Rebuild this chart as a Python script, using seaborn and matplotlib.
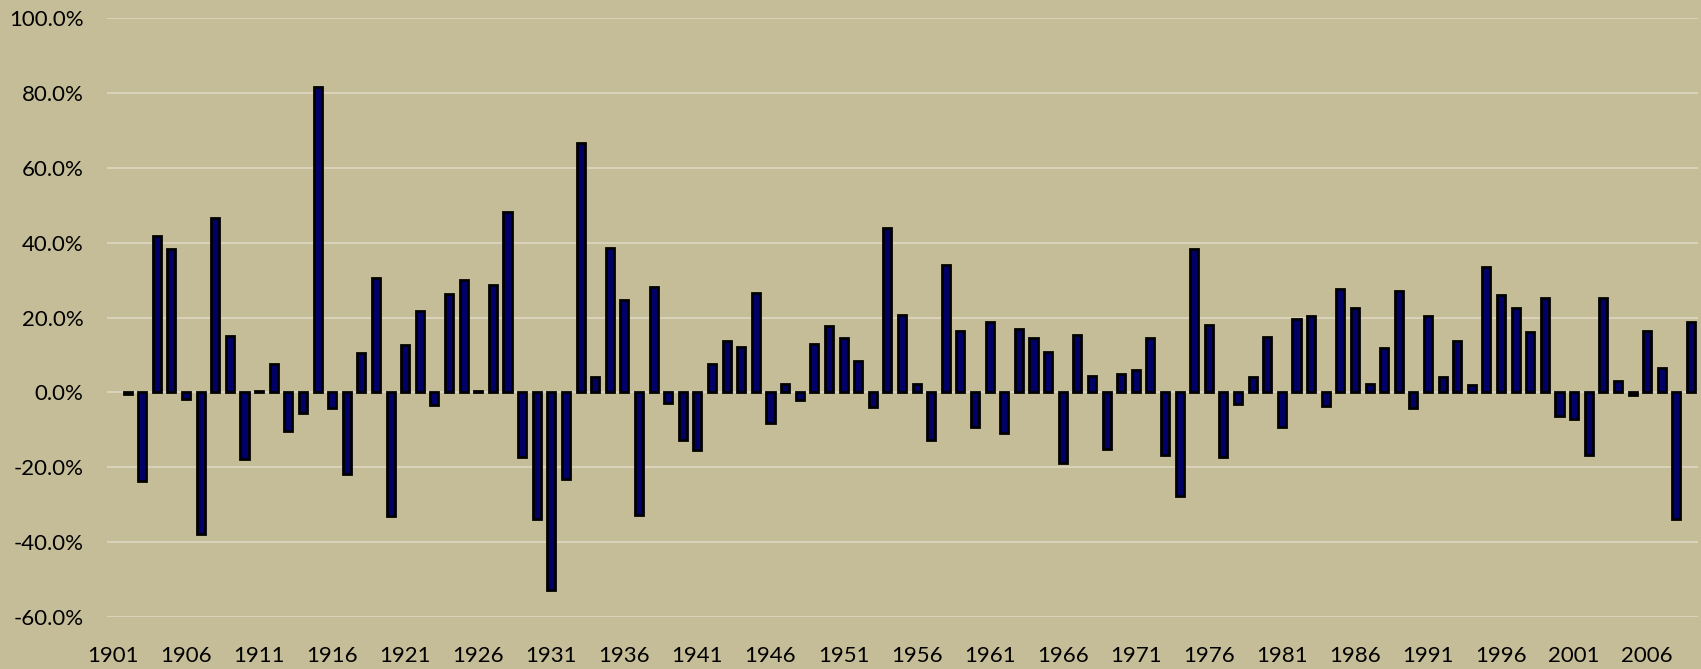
import pandas as pd
import numpy as np
import matplotlib
matplotlib.use("Agg")
import matplotlib.pyplot as plt
import seaborn as sns
from matplotlib.ticker import FuncFormatter

# annual returns (DJIA), 1901 has no bar
years = [str(y) for y in range(1901, 2010)]
returns = [
    None, -0.004, -0.236, 0.417, 0.382, -0.019, -0.377, 0.466, 0.150, -0.179,
    0.004, 0.076, -0.103, -0.054, 0.817, -0.042, -0.217, 0.105, 0.305, -0.329,
    0.127, 0.217, -0.033, 0.262, 0.300, 0.003, 0.288, 0.482, -0.172, -0.338,
    -0.527, -0.231, 0.667, 0.041, 0.385, 0.248, -0.328, 0.281, -0.029, -0.127,
    -0.154, 0.076, 0.138, 0.121, 0.266, -0.081, 0.022, -0.021, 0.129, 0.176,
    0.144, 0.084, -0.038, 0.440, 0.208, 0.023, -0.128, 0.340, 0.164, -0.093,
    0.187, -0.108, 0.170, 0.146, 0.109, -0.189, 0.152, 0.043, -0.152, 0.048,
    0.061, 0.146, -0.166, -0.276, 0.383, 0.179, -0.173, -0.031, 0.042, 0.149,
    -0.092, 0.196, 0.203, -0.037, 0.277, 0.226, 0.023, 0.119, 0.270, -0.043,
    0.203, 0.042, 0.137, 0.021, 0.335, 0.260, 0.226, 0.161, 0.252, -0.062,
    -0.071, -0.168, 0.253, 0.031, -0.006, 0.163, 0.064, -0.338, 0.188,
]
y_ticks = [-0.6, -0.4, -0.2, 0.0, 0.2, 0.4, 0.6, 0.8, 1.0]

df = pd.DataFrame({"year": years, "ret": returns}).dropna()

bg = "#C5BD97"
sns.set_style("white")
plt.rcParams["font.family"] = ["Lato", "DejaVu Sans"]
plt.rcParams["axes.unicode_minus"] = False

fig = plt.figure(figsize=(17.01, 6.69), dpi=100, facecolor=bg)
ax = fig.add_axes([107 / 1701, 1 - 617 / 669, (1698 - 107) / 1701, (617 - 18) / 669])
ax.set_facecolor(bg)

sns.barplot(x="year", y="ret", data=df, order=years, color="#000066",
            saturation=1, edgecolor="black", linewidth=2, width=0.55,
            errorbar=None, ax=ax, zorder=3)

ax.set_ylim(-0.6, 1.0)
ax.set_yticks(y_ticks)
ax.yaxis.set_major_formatter(FuncFormatter(lambda v, p: f"{v*100:.1f}%"))
ax.set_xlim(-0.41, 108.48)
ax.set_xticks(range(0, len(years), 5))
ax.set_xticklabels(years[::5])
ax.grid(axis="y", color="#DCD7C3", linewidth=1.2, zorder=0)
ax.set_axisbelow(True)
ax.tick_params(axis="both", length=0, labelsize=16, colors="black")
ax.tick_params(axis="y", pad=17)
ax.tick_params(axis="x", pad=21)
for s in ax.spines.values():
    s.set_visible(False)
ax.set_xlabel("")
ax.set_ylabel("")

fig.savefig("out.png", dpi=100, facecolor=bg)
